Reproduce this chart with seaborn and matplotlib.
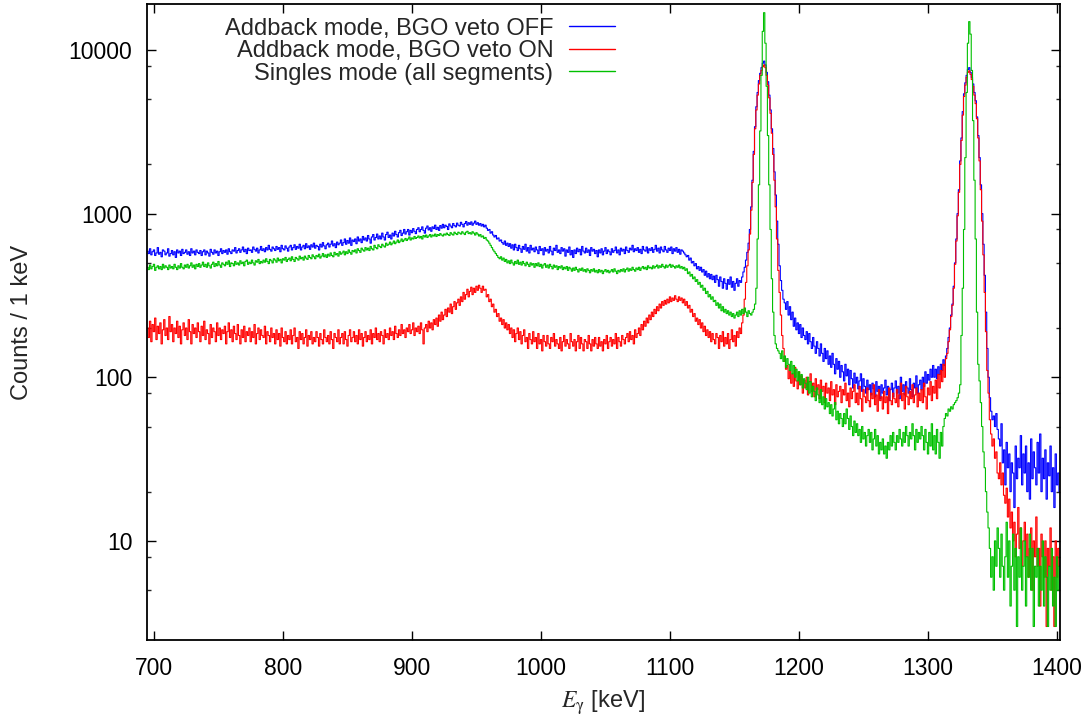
import numpy as np
import pandas as pd
import matplotlib
matplotlib.use("Agg")
import matplotlib.pyplot as plt
import seaborn as sns
from matplotlib.ticker import FixedLocator, FixedFormatter, LogLocator, NullFormatter
from matplotlib.lines import Line2D

# ---- data: counts per 1 keV bin, first bin centred at 695 keV ----
E_START = 695

addback_off = [
    590, 570, 610, 560, 585, 600, 555, 575, 620, 565,
    580, 545, 600, 590, 560, 575, 610, 550, 570, 595,
    560, 585, 540, 600, 575, 590, 555, 605, 570, 580,
    600, 565, 585, 555, 610, 575, 590, 560, 600, 580,
    570, 595, 555, 585, 600, 560, 590, 575, 550, 605,
    580, 565, 600, 575, 590, 555, 585, 610, 570, 595,
    580, 600, 565, 610, 585, 570, 600, 590, 620, 575,
    595, 610, 580, 600, 625, 585, 605, 570, 615, 595,
    600, 580, 625, 605, 590, 615, 575, 600, 630, 595,
    610, 585, 620, 600, 640, 605, 590, 625, 610, 595,
    630, 605, 620, 585, 640, 610, 600, 635, 615, 590,
    625, 640, 600, 620, 645, 605, 630, 615, 650, 600,
    625, 640, 610, 655, 620, 635, 605, 645, 625, 660,
    615, 640, 630, 600, 650, 625, 665, 635, 610, 645,
    660, 625, 650, 680, 635, 655, 620, 670, 645, 660,
    690, 640, 665, 700, 650, 685, 660, 710, 640, 690,
    675, 700, 655, 720, 680, 700, 665, 725, 690, 710,
    680, 735, 700, 660, 720, 745, 690, 715, 750, 700,
    730, 700, 760, 720, 690, 745, 770, 715, 740, 700,
    760, 730, 780, 745, 720, 765, 790, 735, 760, 800,
    750, 775, 800, 740, 790, 765, 810, 780, 755, 800,
    820, 775, 800, 830, 790, 760, 815, 840, 795, 820,
    780, 830, 810, 850, 800, 825, 790, 845, 815, 860,
    820, 850, 835, 800, 865, 840, 820, 870, 845, 830,
    875, 850, 840, 885, 860, 830, 870, 895, 850, 880,
    860, 890, 850, 875, 900, 860, 880, 850, 870, 840,
    860, 830, 850, 815, 790, 800, 760, 775, 740, 720,
    735, 700, 710, 680, 690, 665, 650, 680, 640, 660,
    630, 655, 615, 645, 600, 650, 620, 595, 640, 610,
    580, 630, 605, 650, 590, 620, 575, 640, 600, 615,
    585, 625, 600, 570, 630, 595, 610, 560, 620, 590,
    605, 575, 630, 590, 560, 615, 595, 640, 580, 600,
    570, 620, 590, 610, 550, 600, 580, 625, 560, 595,
    540, 600, 570, 615, 585, 605, 560, 630, 590, 575,
    615, 580, 600, 555, 620, 590, 605, 570, 595, 545,
    600, 575, 610, 560, 590, 620, 570, 600, 585, 560,
    610, 580, 595, 625, 575, 600, 560, 615, 590, 605,
    570, 625, 595, 580, 615, 600, 640, 585, 610, 595,
    620, 580, 605, 570, 630, 600, 590, 625, 575, 610,
    595, 620, 580, 605, 640, 590, 615, 575, 625, 600,
    585, 630, 600, 580, 615, 595, 625, 570, 610, 590,
    620, 580, 605, 565, 600, 590, 575, 560, 545, 555,
    520, 535, 500, 510, 480, 495, 460, 475, 450, 470,
    440, 455, 420, 445, 410, 430, 400, 425, 395, 415,
    380, 420, 395, 360, 410, 385, 350, 400, 375, 345,
    395, 370, 410, 355, 385, 340, 375, 400, 360, 390,
    380, 410, 440, 470, 520, 580, 660, 800, 1100, 1600,
    2400, 3400, 4500, 5500, 6500, 7200, 7800, 8300, 8550, 8100,
    7300, 6400, 5300, 4300, 3300, 2500, 1800, 1300, 900, 650,
    480, 390, 340, 300, 285, 260, 290, 240, 270, 225,
    250, 205, 230, 195, 215, 185, 210, 175, 200, 180,
    170, 190, 160, 185, 165, 150, 175, 155, 140, 165,
    150, 135, 160, 140, 125, 150, 130, 145, 120, 135,
    115, 140, 120, 105, 130, 112, 125, 100, 118, 108,
    95, 120, 102, 112, 90, 110, 98, 86, 106, 92,
    100, 85, 95, 105, 82, 98, 88, 80, 96, 84,
    90, 78, 92, 85, 76, 94, 82, 88, 74, 90,
    80, 86, 96, 78, 88, 72, 84, 92, 76, 86,
    95, 80, 88, 74, 100, 82, 90, 78, 94, 86,
    80, 98, 84, 76, 92, 86, 102, 80, 90, 96,
    84, 100, 88, 108, 92, 104, 96, 112, 100, 118,
    100, 112, 98, 116, 104, 120, 110, 128, 118, 135,
    150, 175, 200, 240, 280, 360, 500, 700, 1000, 1400,
    2100, 2900, 4200, 5400, 6300, 7000, 7600, 7800, 7300, 6800,
    6200, 5500, 4900, 3900, 3000, 2200, 1500, 1000, 650, 420,
    250, 150, 100, 75, 62, 55, 58, 50, 60, 48,
    42, 38, 52, 30, 36, 22, 40, 28, 34, 20,
    30, 26, 16, 38, 24, 32, 28, 44, 22, 34,
    26, 38, 20, 30, 18, 42, 24, 35, 28, 22,
    40, 26, 45, 20, 32, 24, 36, 18, 30, 25,
    38, 20, 28, 16, 34, 22, 26, 20,
]

addback_on = [
    200, 175, 220, 165, 210, 190, 230, 170, 205, 185,
    215, 160, 195, 225, 180, 200, 170, 235, 190, 210,
    165, 200, 185, 220, 175, 205, 160, 195, 215, 180,
    200, 170, 225, 190, 160, 210, 185, 200, 175, 215,
    190, 165, 205, 180, 220, 170, 195, 185, 160, 210,
    175, 200, 190, 165, 215, 180, 200, 170, 195, 185,
    205, 160, 190, 215, 175, 195, 165, 205, 185, 170,
    210, 180, 160, 195, 175, 205, 165, 190, 180, 200,
    165, 190, 175, 210, 160, 185, 200, 170, 195, 180,
    175, 205, 160, 190, 180, 165, 200, 175, 185, 160,
    195, 170, 185, 155, 200, 175, 165, 190, 160, 180,
    170, 195, 160, 180, 200, 165, 175, 150, 190, 170,
    185, 160, 175, 195, 155, 180, 170, 190, 160, 175,
    165, 190, 175, 155, 185, 170, 160, 195, 175, 165,
    180, 160, 190, 170, 150, 185, 175, 165, 195, 160,
    175, 185, 160, 190, 170, 155, 180, 195, 165, 175,
    190, 165, 180, 160, 195, 170, 185, 155, 175, 190,
    165, 180, 170, 195, 160, 185, 175, 200, 170, 185,
    165, 190, 180, 160, 195, 175, 185, 170, 200, 180,
    190, 170, 205, 185, 175, 195, 180, 210, 185, 195,
    175, 200, 190, 210, 185, 195, 215, 180, 200, 190,
    205, 185, 215, 195, 160, 200, 210, 190, 220, 200,
    215, 195, 225, 210, 230, 205, 240, 220, 250, 225,
    240, 260, 235, 265, 250, 280, 245, 270, 290, 260,
    285, 300, 275, 310, 290, 330, 300, 320, 345, 310,
    335, 355, 320, 350, 330, 360, 340, 365, 350, 330,
    360, 340, 345, 310, 320, 290, 300, 270, 280, 250,
    260, 235, 245, 220, 230, 210, 225, 200, 215, 195,
    210, 185, 200, 175, 195, 165, 185, 200, 170, 190,
    160, 180, 195, 165, 175, 150, 185, 170, 160, 190,
    165, 175, 150, 185, 160, 170, 145, 180, 165, 155,
    180, 160, 150, 175, 165, 185, 155, 170, 160, 150,
    175, 145, 165, 180, 155, 170, 160, 150, 185, 165,
    155, 170, 145, 165, 180, 150, 175, 160, 145, 170,
    165, 150, 180, 160, 145, 170, 155, 175, 160, 150,
    175, 155, 165, 145, 170, 160, 180, 150, 165, 175,
    155, 170, 160, 185, 150, 175, 165, 155, 180, 170,
    160, 175, 185, 165, 190, 170, 180, 160, 195, 175,
    185, 200, 180, 210, 195, 220, 205, 230, 215, 240,
    225, 250, 235, 260, 245, 270, 255, 280, 265, 290,
    275, 295, 280, 300, 285, 310, 290, 305, 295, 315,
    300, 290, 310, 295, 305, 285, 300, 275, 290, 265,
    275, 250, 260, 235, 245, 220, 230, 210, 225, 200,
    215, 190, 205, 180, 195, 175, 190, 165, 185, 170,
    160, 185, 175, 150, 180, 165, 190, 155, 175, 160,
    185, 150, 170, 195, 165, 180, 155, 190, 175, 200,
    185, 215, 240, 300, 380, 480, 600, 750, 1050, 1550,
    2300, 3300, 4300, 5300, 6200, 7000, 7500, 7900, 8100, 7800,
    7000, 6100, 5100, 4100, 3100, 2300, 1600, 1100, 700, 450,
    330, 240, 180, 150, 125, 112, 118, 98, 110, 92,
    105, 88, 115, 95, 85, 108, 90, 102, 80, 96,
    86, 100, 78, 94, 105, 82, 92, 76, 98, 84,
    90, 74, 96, 82, 88, 70, 92, 80, 86, 72,
    94, 78, 84, 68, 90, 76, 82, 88, 70, 84,
    78, 92, 72, 80, 66, 86, 74, 82, 90, 70,
    80, 68, 88, 74, 62, 84, 76, 70, 86, 72,
    66, 80, 74, 90, 68, 78, 62, 84, 72, 76,
    64, 82, 70, 76, 60, 86, 72, 68, 80, 74,
    70, 84, 66, 78, 92, 72, 80, 64, 88, 76,
    68, 82, 74, 90, 70, 78, 86, 66, 80, 72,
    84, 70, 92, 76, 64, 86, 78, 94, 72, 88,
    80, 96, 74, 104, 86, 110, 94, 120, 100, 130,
    140, 165, 195, 235, 275, 350, 490, 680, 970, 1350,
    2000, 2800, 4000, 5200, 6100, 6800, 7300, 7450, 7100, 6600,
    6000, 5300, 4700, 3800, 2900, 2100, 1400, 900, 560, 330,
    190, 110, 80, 55, 45, 38, 42, 32, 35, 26,
    24, 30, 22, 26, 19, 17, 21, 14, 18, 12,
    15, 10, 13, 8, 11, 16, 9, 12, 7, 10,
    13, 8, 11, 6, 9, 12, 5, 10, 8, 14,
    7, 9, 4, 11, 8, 6, 10, 3, 9, 7,
    12, 5, 8, 3, 10, 6, 9, 7,
]

singles = [
    470, 455, 485, 460, 475, 490, 450, 470, 480, 460,
    475, 455, 490, 465, 480, 470, 455, 485, 465, 475,
    460, 490, 470, 455, 480, 465, 495, 470, 460, 485,
    470, 490, 465, 480, 500, 470, 485, 460, 490, 475,
    495, 470, 485, 505, 475, 490, 470, 500, 480, 465,
    490, 505, 475, 495, 480, 510, 485, 470, 500, 490,
    480, 505, 490, 515, 475, 500, 495, 480, 510, 490,
    500, 485, 515, 495, 505, 480, 510, 520, 490, 505,
    495, 520, 500, 485, 515, 505, 525, 495, 510, 500,
    520, 505, 530, 510, 495, 525, 515, 500, 530, 520,
    505, 535, 515, 525, 500, 530, 520, 540, 510, 525,
    535, 515, 545, 525, 510, 540, 530, 520, 550, 530,
    540, 520, 550, 535, 525, 555, 540, 530, 560, 545,
    530, 555, 545, 565, 535, 550, 570, 545, 560, 540,
    565, 550, 575, 555, 545, 580, 560, 570, 550, 585,
    565, 575, 590, 560, 585, 570, 600, 580, 565, 595,
    585, 600, 575, 610, 595, 580, 615, 600, 590, 620,
    600, 615, 595, 630, 610, 600, 640, 620, 610, 645,
    630, 620, 650, 635, 625, 660, 640, 650, 670, 645,
    660, 680, 655, 670, 690, 665, 680, 700, 675, 690,
    705, 685, 700, 720, 690, 710, 700, 725, 705, 715,
    730, 710, 725, 700, 735, 720, 740, 715, 730, 745,
    720, 740, 730, 750, 725, 745, 735, 755, 740, 730,
    750, 740, 760, 745, 735, 765, 750, 740, 770, 755,
    745, 770, 760, 750, 775, 760, 745, 770, 780, 755,
    765, 750, 775, 760, 740, 765, 750, 730, 745, 720,
    730, 705, 715, 690, 680, 660, 640, 620, 600, 585,
    570, 555, 540, 530, 545, 520, 535, 510, 525, 500,
    515, 495, 520, 500, 485, 510, 495, 520, 490, 505,
    485, 510, 495, 480, 505, 490, 475, 500, 485, 495,
    470, 495, 480, 500, 475, 490, 465, 485, 495, 470,
    485, 465, 490, 475, 460, 485, 470, 480, 455, 475,
    465, 480, 455, 470, 460, 475, 450, 470, 460, 445,
    465, 450, 470, 455, 440, 460, 450, 465, 445, 455,
    440, 460, 450, 435, 455, 445, 460, 440, 450, 435,
    455, 440, 450, 430, 445, 455, 440, 450, 435, 445,
    455, 440, 460, 445, 430, 450, 440, 455, 445, 460,
    440, 455, 465, 445, 460, 450, 470, 455, 445, 465,
    455, 470, 450, 465, 475, 460, 470, 455, 480, 465,
    470, 460, 480, 465, 475, 485, 465, 480, 470, 490,
    475, 465, 485, 470, 480, 490, 470, 485, 475, 465,
    480, 470, 485, 465, 475, 460, 470, 450, 460, 430,
    440, 415, 425, 400, 410, 385, 395, 370, 380, 355,
    365, 340, 350, 325, 335, 310, 320, 300, 310, 290,
    295, 275, 285, 265, 280, 255, 270, 250, 260, 245,
    255, 240, 250, 235, 245, 230, 240, 250, 235, 255,
    240, 260, 245, 265, 250, 235, 255, 245, 240, 250,
    260, 280, 350, 700, 1500, 3200, 7000, 13000, 16900, 11000,
    6000, 3000, 1500, 800, 400, 250, 180, 160, 150, 145,
    140, 130, 145, 125, 135, 115, 130, 120, 110, 125,
    105, 118, 100, 112, 95, 108, 90, 104, 86, 98,
    92, 84, 100, 80, 94, 76, 88, 82, 72, 86,
    78, 70, 84, 68, 76, 64, 74, 66, 70, 60,
    68, 58, 64, 70, 55, 62, 52, 60, 56, 50,
    60, 52, 64, 56, 48, 58, 50, 44, 54, 46,
    52, 44, 48, 40, 50, 42, 46, 38, 44, 48,
    40, 46, 36, 42, 48, 38, 44, 34, 40, 36,
    42, 34, 38, 32, 40, 36, 44, 38, 46, 40,
    36, 44, 40, 48, 42, 38, 46, 40, 50, 44,
    38, 46, 42, 52, 44, 36, 48, 40, 46, 42,
    50, 44, 36, 48, 40, 34, 46, 38, 52, 36,
    44, 34, 48, 40, 32, 46, 38, 50, 56, 60,
    58, 64, 62, 66, 64, 68, 70, 72, 75, 80,
    90, 180, 350, 800, 2200, 5500, 11000, 14900, 12500, 7500,
    3700, 1600, 700, 250, 120, 95, 70, 50, 35, 28,
    20, 15, 12, 9, 6, 8, 5, 10, 7, 12,
    9, 6, 11, 7, 5, 8, 13, 6, 10, 4,
    7, 11, 5, 9, 3, 8, 6, 12, 5, 7,
    10, 4, 8, 6, 11, 5, 9, 3, 7, 6,
    9, 4, 7, 5, 10, 4, 8, 6, 3, 7,
    5, 9, 4, 6, 3, 8, 5, 7,
]

labels = ["Addback mode, BGO veto OFF", "Addback mode, BGO veto ON",
          "Singles mode (all segments)"]
colors = ["#0000ff", "#ff0000", "#00c000"]
x_ticks = [700, 800, 900, 1000, 1100, 1200, 1300, 1400]
y_ticks = [10, 100, 1000, 10000]
y_ticklabels = ["10", "100", "1000", "10000"]

# ---- build long table ----
frames = []
for lab, vals in zip(labels, [addback_off, addback_on, singles]):
    e = np.arange(E_START, E_START + len(vals))
    frames.append(pd.DataFrame({"E": e, "counts": vals, "mode": lab}))
df = pd.concat(frames, ignore_index=True)

sns.set_style("ticks")
plt.rcParams["font.family"] = ["Liberation Sans", "DejaVu Sans"]
plt.rcParams["mathtext.fontset"] = "stix"

fig = plt.figure(figsize=(10.9, 7.17), dpi=100)
ax = fig.add_axes([147 / 1090, 1 - 640 / 717, (1060 - 147) / 1090, (640 - 4) / 717])

sns.lineplot(data=df, x="E", y="counts", hue="mode", hue_order=labels,
             palette=dict(zip(labels, colors)), estimator=None,
             drawstyle="steps-mid", linewidth=0.8, ax=ax, legend=False)

ax.set_yscale("log")
ax.set_xlim(694.6, 1402.3)
ax.set_ylim(2.48, 19100)

ax.xaxis.set_major_locator(FixedLocator(x_ticks))
ax.yaxis.set_major_locator(FixedLocator(y_ticks))
ax.yaxis.set_major_formatter(FixedFormatter(y_ticklabels))
ax.yaxis.set_minor_locator(LogLocator(base=10, subs=[2, 5, 8]))
ax.yaxis.set_minor_formatter(NullFormatter())

ax.tick_params(axis="both", which="major", direction="in", length=6.5, width=1.0,
               top=True, right=True, labelsize=16.5, colors="black")
ax.tick_params(axis="y", which="minor", direction="in", length=3, width=1.0,
               left=True, right=True)
ax.tick_params(axis="x", which="minor", bottom=False, top=False)
ax.tick_params(axis="x", which="major", pad=12)
ax.tick_params(axis="y", which="major", pad=10.5)
for s in ax.spines.values():
    s.set_linewidth(1.3)
    s.set_color("black")
    s.set_visible(True)

ax.set_xlabel(r"$E_{\mathrm{\gamma}}$ [keV]", fontsize=17)
ax.set_ylabel("Counts / 1 keV", fontsize=17)
ax.xaxis.set_label_coords(0.5, -(688 - 640) / 636)
ax.yaxis.set_label_coords(-(147 - 33) / 913, 0.5)

handles = [Line2D([], [], color=c, linewidth=1.0) for c in colors]
leg = ax.legend(handles, labels, loc="upper right", markerfirst=False,
                frameon=False, fontsize=17, handlelength=1.95, handletextpad=0.68,
                labelspacing=0.02, borderpad=0.2, borderaxespad=0.0,
                bbox_to_anchor=(620 / 1090, 1 - 13 / 717),
                bbox_transform=fig.transFigure)
for t in leg.get_texts():
    t.set_ha("right")

fig.savefig("out.png", dpi=100)
